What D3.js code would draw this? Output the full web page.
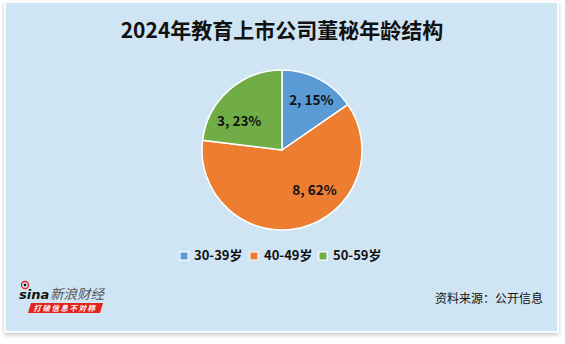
<!DOCTYPE html>
<html>
<head>
<meta charset="utf-8">
<script src="https://cdn.jsdelivr.net/npm/d3@7"></script>
<style>
  html, body { margin: 0; padding: 0; background: #fff; }
  svg { display: block; }
</style>
</head>
<body>
<svg id="chart" width="565" height="344"></svg>
<script>
// chart data
const categories = ["30-39岁", "40-49岁", "50-59岁"];
const counts = [2, 8, 3];
const percents = ["15%", "62%", "23%"];
const colors = ["#5b9bd5", "#ed7d31", "#70ad47"];

const titleText = "2024年教育上市公司董秘年龄结构";
const sourceText = "资料来源：公开信息";

const font = "'Noto Sans CJK SC', 'Noto Sans', sans-serif";
const svg = d3.select("#chart");

// drop shadow for the panel
const defs = svg.append("defs");
const f = defs.append("filter").attr("id", "shadow")
    .attr("x", "-5%").attr("y", "-5%").attr("width", "110%").attr("height", "115%");
f.append("feGaussianBlur").attr("in", "SourceAlpha").attr("stdDeviation", 2);
f.append("feOffset").attr("dx", 0).attr("dy", 2).attr("result", "blur");
f.append("feComponentTransfer").append("feFuncA").attr("type", "linear").attr("slope", 0.25);
const fm = f.append("feMerge");
fm.append("feMergeNode");
fm.append("feMergeNode").attr("in", "SourceGraphic");

svg.append("rect")
    .attr("x", 5).attr("y", 2).attr("width", 553).attr("height", 330)
    .attr("fill", "#d0e5f4")
    .attr("stroke", "#ffffff").attr("stroke-width", 1.5)
    .attr("filter", "url(#shadow)");

// title
svg.append("text")
    .attr("x", 282).attr("y", 38)
    .attr("text-anchor", "middle")
    .attr("font-family", font).attr("font-weight", "bold")
    .attr("font-size", 21).attr("fill", "#111")
    .text(titleText);

// pie
const cx = 282, cy = 150, radius = 80;
const pie = d3.pie().sort(null).value(d => d)(counts);
const arc = d3.arc().innerRadius(0).outerRadius(radius);
const labelArc = d3.arc().innerRadius(radius * 0.6).outerRadius(radius * 0.6);

const g = svg.append("g").attr("transform", `translate(${cx},${cy})`);
g.selectAll("path")
    .data(pie)
    .join("path")
    .attr("d", arc)
    .attr("fill", (d, i) => colors[i])
    .attr("stroke", "#ffffff")
    .attr("stroke-width", 1.5);

// label position tweaks (to mimic excel placement)
const labelShift = [[7, -7], [21, -6], [-11, 7]];
g.selectAll("text.lbl")
    .data(pie)
    .join("text")
    .attr("class", "lbl")
    .attr("transform", (d, i) => {
        const c = labelArc.centroid(d);
        return `translate(${c[0] + labelShift[i][0]},${c[1] + labelShift[i][1]})`;
    })
    .attr("text-anchor", "middle")
    .attr("dy", "0.35em")
    .attr("font-family", font).attr("font-weight", "bold")
    .attr("font-size", 13.5).attr("fill", "#111")
    .text((d, i) => `${counts[i]}, ${percents[i]}`);

// legend
const legendX = [180, 250, 319];
const legend = svg.append("g");
categories.forEach((c, i) => {
    legend.append("rect")
        .attr("x", legendX[i]).attr("y", 252)
        .attr("width", 8).attr("height", 8)
        .attr("fill", colors[i])
        .attr("stroke", "#fff").attr("stroke-width", 1);
    legend.append("text")
        .attr("x", legendX[i] + 14).attr("y", 260)
        .attr("font-family", font).attr("font-weight", "bold")
        .attr("font-size", 13).attr("fill", "#111")
        .text(c);
});

// sina logo
const logo = svg.append("g");
logo.append("circle").attr("cx", 25).attr("cy", 285).attr("r", 3.5)
    .attr("fill", "none").attr("stroke", "#e1251b").attr("stroke-width", 1.3);
logo.append("circle").attr("cx", 25).attr("cy", 285).attr("r", 1.3).attr("fill", "#111");
logo.append("text")
    .attr("x", 19).attr("y", 299)
    .attr("font-family", "'DejaVu Sans', sans-serif").attr("font-style", "italic").attr("font-weight", "bold")
    .attr("font-size", 13).attr("fill", "#111")
    .text("sina");
logo.append("text")
    .attr("x", 50).attr("y", 299)
    .attr("font-family", font).attr("font-style", "italic")
    .attr("font-size", 13.5).attr("fill", "#555")
    .text("新浪财经");
logo.append("path")
    .attr("d", "M31,303 L103,303 L100,313 L28,313 Z")
    .attr("fill", "#e1251b");
logo.append("text")
    .attr("x", 65).attr("y", 311)
    .attr("text-anchor", "middle")
    .attr("font-family", font).attr("font-style", "italic").attr("font-weight", "bold")
    .attr("font-size", 7.5).attr("fill", "#fff")
    .attr("letter-spacing", 1.5)
    .text("打破信息不对称");

// source
svg.append("text")
    .attr("x", 543).attr("y", 303)
    .attr("text-anchor", "end")
    .attr("font-family", font)
    .attr("font-size", 12).attr("fill", "#111")
    .text(sourceText);
</script>
</body>
</html>
